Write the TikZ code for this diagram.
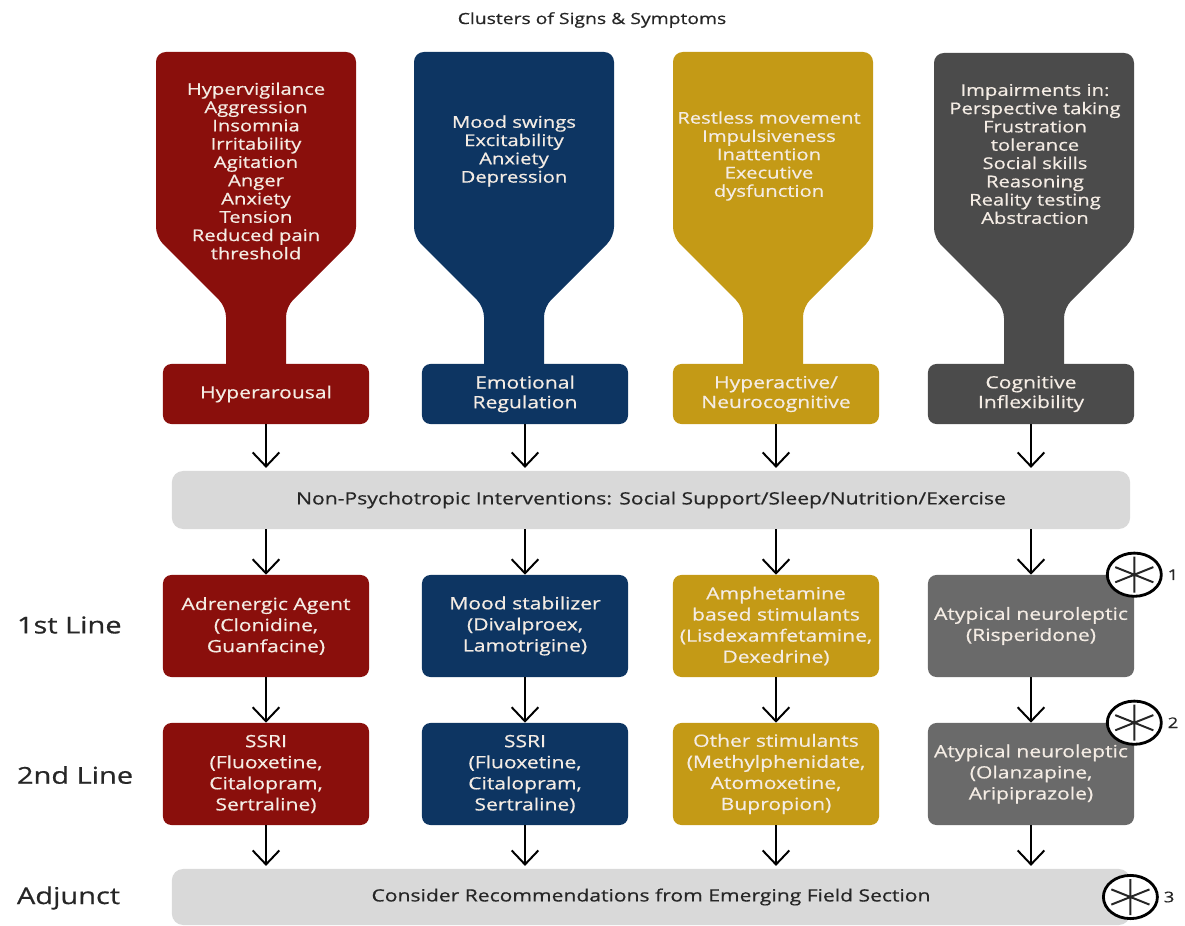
\documentclass[tikz,border=0pt]{standalone}
\usepackage{fontspec}
\setmainfont{Open Sans}[FakeStretch=1.25, FakeBold=0.6]
\definecolor{clusterRed}{HTML}{8A0F0C}
\definecolor{clusterBlue}{HTML}{0D3562}
\definecolor{clusterGold}{HTML}{C49A16}
\definecolor{clusterGray}{HTML}{4B4B4B}
\definecolor{lineGray}{HTML}{6A6A6A}
\definecolor{bandGray}{HTML}{D9D9D9}
\definecolor{boxText}{HTML}{F4ECE4}
\definecolor{inkDark}{HTML}{262626}
\usetikzlibrary{arrows.meta, positioning, shapes.geometric}

\begin{document}
\begin{tikzpicture}[
    x=0.025cm, y=-0.025cm,
    lbl/.style={
      rounded corners=6pt,
      minimum width=5.15cm,
      minimum height=1.5cm,
      inner sep=1pt,
      align=center,
      text=boxText,
      font=\fontsize{12}{14}\selectfont,
    },
    drug/.style={lbl, minimum height=2.55cm, font=\fontsize{12}{15}\selectfont},
    band/.style={
      rounded corners=8pt,
      fill=bandGray,
      minimum width=23.95cm,
      minimum height=1.45cm,
      text=inkDark,
      font=\fontsize{12}{14}\selectfont,
    },
    symp/.style={align=center, text=boxText, font=\fontsize{11.5}{13}\selectfont},
    rowname/.style={anchor=west, text=inkDark, font=\fontsize{16.5}{18}\selectfont},
    starmark/.style={
      ellipse, draw=black, fill=white, line width=2pt,
      minimum width=1.35cm, minimum height=1.08cm, inner sep=0pt,
      path picture={
        \draw[line width=1.4pt, inkDark]
          ([yshift=0.45cm]path picture bounding box.center) -- ([yshift=-0.45cm]path picture bounding box.center)
          ([shift={(150:0.55cm and 0.38cm)}]path picture bounding box.center) -- ([shift={(-30:0.55cm and 0.38cm)}]path picture bounding box.center)
          ([shift={(30:0.55cm and 0.38cm)}]path picture bounding box.center) -- ([shift={(210:0.55cm and 0.38cm)}]path picture bounding box.center);
      },
    },
    arr/.style={-{Straight Barb[length=10pt, width=19pt]}, black, line width=1.4pt},
    funnel/.pic={
      \fill[#1, rounded corners=7pt] (-30,330) -- (-30,255) -- (-100,185) -- (-100,0)
        -- (100,0) -- (100,185) -- (30,255) -- (30,330) -- cycle;
    },
  ]
    \useasboundingbox (0,0) rectangle (1185,926);

    \node[text=inkDark, font=\fontsize{11}{13}\selectfont] (title) at (592,20) {Clusters of Signs \& Symptoms};

    % funnels
    \pic at (256,52) {funnel=clusterRed};
    \pic at (514,52) {funnel=clusterBlue};
    \pic at (773,52) {funnel=clusterGold};
    \pic at (1034,53) {funnel=clusterGray};

    \node[symp] (hypSx) at (256,171) {Hypervigilance\\Aggression\\Insomnia\\Irritability\\Agitation\\Anger\\Anxiety\\Tension\\Reduced pain\\threshold};
    \node[symp] (emoSx) at (514,151) {Mood swings\\Excitability\\Anxiety\\Depression};
    \node[symp] (actSx) at (769,156) {Restless movement\\Impulsiveness\\Inattention\\Executive\\dysfunction};
    \node[symp] (cogSx) at (1035,154) {Impairments in:\\Perspective taking\\Frustration\\tolerance\\Social skills\\Reasoning\\Reality testing\\Abstraction};

    \node[lbl, fill=clusterRed] (hyp) at (266,394) {Hyperarousal};
    \node[lbl, fill=clusterBlue] (emo) at (525,394) {Emotional\\Regulation};
    \node[lbl, fill=clusterGold] (act) at (776,394) {Hyperactive/\\Neurocognitive};
    \node[lbl, fill=clusterGray] (cog) at (1031,394) {Cognitive\\Inflexibility};

    \node[band] (nonpsy) at (651,500) {Non-Psychotropic Interventions: Social Support/Sleep/Nutrition/Exercise};

    % treatment lines
    \node[drug, fill=clusterRed] (hypA) at (266,626) {Adrenergic Agent\\(Clonidine,\\Guanfacine)};
    \node[drug, fill=clusterBlue] (emoA) at (525,626) {Mood stabilizer\\(Divalproex,\\Lamotrigine)};
    \node[drug, fill=clusterGold] (actA) at (776,626) {Amphetamine\\based stimulants\\(Lisdexamfetamine,\\Dexedrine)};
    \node[drug, fill=lineGray] (cogA) at (1031,626) {Atypical neuroleptic\\(Risperidone)};

    \node[drug, fill=clusterRed] (hypB) at (266,774) {SSRI\\(Fluoxetine,\\Citalopram,\\Sertraline)};
    \node[drug, fill=clusterBlue] (emoB) at (525,774) {SSRI\\(Fluoxetine,\\Citalopram,\\Sertraline)};
    \node[drug, fill=clusterGold] (actB) at (776,774) {Other stimulants\\(Methylphenidate,\\Atomoxetine,\\Bupropion)};
    \node[drug, fill=lineGray] (cogB) at (1031,774) {Atypical neuroleptic\\(Olanzapine,\\Aripiprazole)};

    \node[band, minimum height=1.4cm] (adj) at (651,897) {Consider Recommendations from Emerging Field Section};

    \node[rowname] (first) at (12,625) {1st Line};
    \node[rowname] (second) at (12,775) {2nd Line};
    \node[rowname] (adjunct) at (12,898) {Adjunct};

    \node[starmark] (mark1) at (cogA.north east) {};
    \node[starmark] (mark2) at (cogB.north east) {};
    \node[starmark] (mark3) at (adj.east) {};
    \node[right=0pt of mark1, text=inkDark, font=\fontsize{10.5}{11}\selectfont] (num1) {1};
    \node[right=0pt of mark2, text=inkDark, font=\fontsize{10.5}{11}\selectfont] (num2) {2};
    \node[right=0pt of mark3, text=inkDark, font=\fontsize{10.5}{11}\selectfont] (num3) {3};

    \draw[arr, shorten >=2pt] (hyp) -- (hyp |- nonpsy.north);
    \draw[arr, shorten >=2pt] (emo) -- (emo |- nonpsy.north);
    \draw[arr, shorten >=2pt] (act) -- (act |- nonpsy.north);
    \draw[arr, shorten >=2pt] (cog) -- (cog |- nonpsy.north);
    \draw[arr] (hypA |- nonpsy.south) -- (hypA);
    \draw[arr] (emoA |- nonpsy.south) -- (emoA);
    \draw[arr] (actA |- nonpsy.south) -- (actA);
    \draw[arr] (cogA |- nonpsy.south) -- (cogA);
    \draw[arr] (hypA) -- (hypB);
    \draw[arr] (emoA) -- (emoB);
    \draw[arr] (actA) -- (actB);
    \draw[arr] (cogA) -- (cogB);
    \draw[arr, shorten >=2pt] (hypB) -- (hypB |- adj.north);
    \draw[arr, shorten >=2pt] (emoB) -- (emoB |- adj.north);
    \draw[arr, shorten >=2pt] (actB) -- (actB |- adj.north);
    \draw[arr, shorten >=2pt] (cogB) -- (cogB |- adj.north);
  \end{tikzpicture}
\end{document}
